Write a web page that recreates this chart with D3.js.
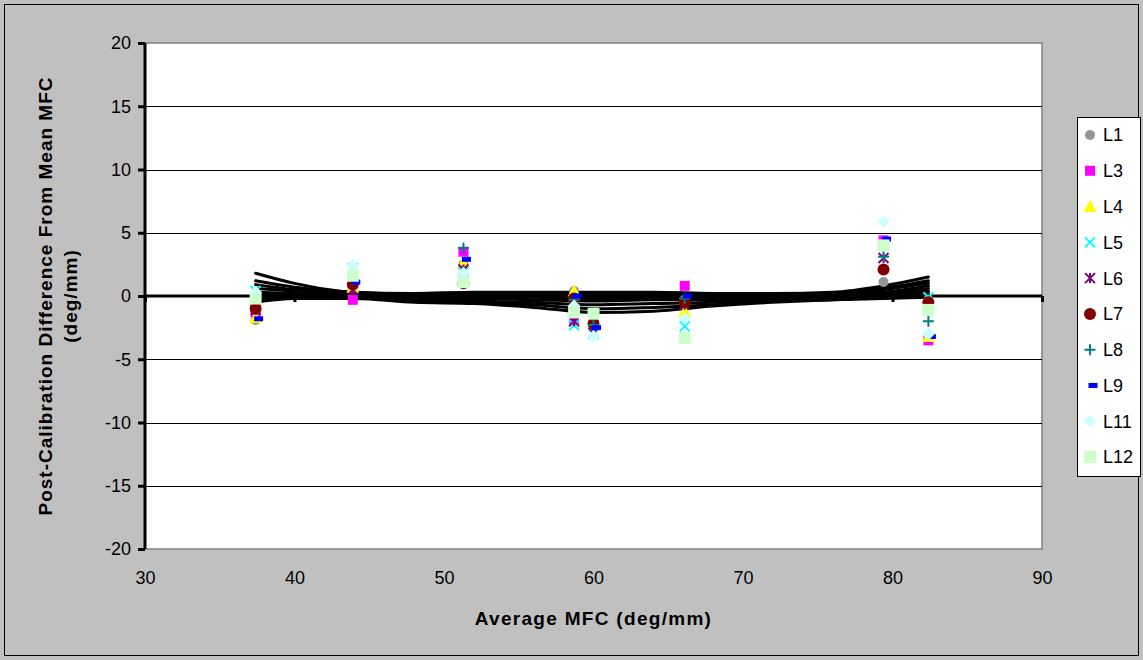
<!DOCTYPE html>
<html><head><meta charset="utf-8">
<script src="https://cdn.jsdelivr.net/npm/d3@7"></script>
<style>body{margin:0;background:#c0c0c0;} svg{display:block;font-family:"Liberation Sans",Arial,sans-serif;}</style>
</head><body>
<svg id="c" width="1143" height="660"></svg>
<script>
// ---- data ----
const mfc = [37.4, 43.9, 51.3, 58.7, 60.0, 66.1, 79.4, 82.4];
const seriesNames = ["L1","L3","L4","L5","L6","L7","L8","L9","L11","L12"];
const L1  = [-1.9, 0.7, 2.5, 0.4, -2.0, -0.3, 1.1, -0.3];
const L3  = [-1.3, -0.3, 3.5, -1.8, -1.8, 0.8, 4.4, -3.5];
const L4  = [-1.7, 0.7, 2.6, 0.4, -2.0, -1.2, 4.2, -3.2];
const L5  = [0.4, 2.2, 1.9, -2.3, -3.0, -2.4, 4.0, -0.1];
const L6  = [-1.1, 0.5, 2.1, -2.0, -2.9, -0.7, 3.0, -0.8];
const L7  = [-1.0, 0.9, 1.0, -0.2, -2.2, -0.5, 2.1, -0.5];
const L8  = [-0.1, 1.3, 3.8, -0.3, -2.3, -0.2, 3.1, -2.0];
const L9  = [-1.8, 1.1, 2.9, 0.0, -2.5, 0.0, 4.5, -3.2];
const L11 = [0.3, 2.4, 1.8, -0.8, -3.2, -1.8, 5.9, -3.0];
const L12 = [-0.2, 1.6, 1.1, -1.3, -1.4, -3.3, 4.0, -1.1];
const seriesValues = [L1, L3, L4, L5, L6, L7, L8, L9, L11, L12];

// smooth black curves (one per series)
const curveX = [37.4, 40, 44, 48, 52, 56, 60, 64, 68, 72, 76, 79.4, 82.4];
const curves = [
  [1.8, 1.0, 0.3, 0.2, 0.3, 0.3, 0.3, 0.3, 0.2, 0.2, 0.3, 0.8, 1.5],
  [1.2, 0.7, 0.3, 0.1, 0.2, 0.2, 0.2, 0.2, 0.1, 0.1, 0.2, 0.6, 1.2],
  [0.9, 0.5, 0.2, 0.0, 0.1, 0.1, 0.1, 0.1, 0.0, 0.1, 0.1, 0.5, 1.0],
  [0.6, 0.4, 0.2, -0.1, 0.0, 0.0, 0.0, 0.0, -0.1, 0.0, 0.0, 0.3, 0.8],
  [0.3, 0.2, 0.1, -0.1, -0.1, -0.1, -0.2, -0.1, -0.2, -0.1, 0.0, 0.2, 0.6],
  [0.1, 0.1, 0.0, -0.2, -0.2, -0.3, -0.4, -0.3, -0.3, -0.2, -0.1, 0.1, 0.4],
  [-0.1, 0.0, 0.0, -0.3, -0.4, -0.5, -0.7, -0.6, -0.5, -0.3, -0.2, 0.0, 0.3],
  [-0.3, -0.1, -0.1, -0.4, -0.5, -0.7, -1.0, -0.9, -0.7, -0.4, -0.3, -0.1, 0.1],
  [-0.5, -0.2, -0.2, -0.5, -0.6, -0.9, -1.3, -1.2, -0.8, -0.5, -0.3, -0.2, -0.1]
];
const xTicks = [30, 40, 50, 60, 70, 80, 90];
const yTicks = [-20, -15, -10, -5, 0, 5, 10, 15, 20];
const xTitle = "Average MFC (deg/mm)";
const yTitle = ["Post-Calibration Difference From Mean MFC", "(deg/mm)"];

// ---- styles ----
const styles = {
  L1:{shape:"circle", fill:"#969696", size:5},
  L3:{shape:"square", fill:"#ff00ff", size:10},
  L4:{shape:"triangle", fill:"#ffff00", size:11},
  L5:{shape:"x", stroke:"#00ffff", size:10},
  L6:{shape:"star", stroke:"#800080", size:10},
  L7:{shape:"circle", fill:"#800000", size:6},
  L8:{shape:"plus", stroke:"#008080", size:11},
  L9:{shape:"dash", fill:"#0000ff", size:9},
  L11:{shape:"diamond", fill:"#ccffff", size:13},
  L12:{shape:"square", fill:"#ccffcc", size:12}
};

const svg = d3.select("#c");
const W = 1143, H = 660;
svg.append("rect").attr("x",0).attr("y",0).attr("width",W).attr("height",H).attr("fill","#c0c0c0");
svg.append("rect").attr("x",4.5).attr("y",4.5).attr("width",W-9).attr("height",H-9).attr("fill","none").attr("stroke","#000").attr("stroke-width",1);

const x = d3.scaleLinear().domain([30, 90]).range([145, 1042]);
const y = d3.scaleLinear().domain([-20, 20]).range([549, 43]);

// plot area
svg.append("rect").attr("x",x(30)).attr("y",y(20)).attr("width",x(90)-x(30)).attr("height",y(-20)-y(20))
  .attr("fill","#fff").attr("stroke","#808080").attr("stroke-width",1.5);

// gridlines
svg.append("g").selectAll("line").data(yTicks.filter(d=>d!==0 && d!==20 && d!==-20)).join("line")
  .attr("x1",x(30)).attr("x2",x(90)).attr("y1",d=>Math.round(y(d))+0.5).attr("y2",d=>Math.round(y(d))+0.5)
  .attr("stroke","#000").attr("stroke-width",1);

// y axis
const yAxis = svg.append("g").attr("transform",`translate(${x(30)},0)`)
  .call(d3.axisLeft(y).tickValues(yTicks).tickSize(7).tickPadding(7).tickFormat(d=>d));
yAxis.select(".domain").attr("stroke","#000").attr("stroke-width",3).attr("d",`M0,${y(20)}V${y(-20)}`);
yAxis.selectAll(".tick line").attr("stroke","#000").attr("stroke-width",3);
yAxis.selectAll("text").attr("font-size",18).attr("fill","#000").attr("font-family","Liberation Sans, Arial, sans-serif");

// x axis labels at bottom
const xLab = svg.append("g").attr("transform",`translate(0,${y(-20)})`)
  .call(d3.axisBottom(x).tickValues(xTicks).tickSize(0).tickPadding(22));
xLab.select(".domain").remove();
xLab.selectAll("text").attr("font-size",18).attr("fill","#000").attr("font-family","Liberation Sans, Arial, sans-serif");

// black curves
const line = d3.line().x((d,i)=>x(curveX[i])).y(d=>y(d)).curve(d3.curveMonotoneX);
svg.append("g").selectAll("path").data(curves).join("path")
  .attr("d",line).attr("fill","none").attr("stroke","#000").attr("stroke-width",3).attr("stroke-linecap","round");

// x axis line at zero with ticks
const xAxis = svg.append("g").attr("transform",`translate(0,${y(0)})`)
  .call(d3.axisBottom(x).tickValues(xTicks).tickSize(6).tickFormat(""));
xAxis.select(".domain").attr("stroke","#000").attr("stroke-width",3).attr("d",`M${x(30)},0H${x(90)}`);
xAxis.selectAll(".tick line").attr("stroke","#000").attr("stroke-width",3);

// markers
function drawMarker(g, st, cx, cy){
  const s = st.size;
  switch(st.shape){
    case "circle": g.append("circle").attr("cx",cx).attr("cy",cy).attr("r",s).attr("fill",st.fill); break;
    case "square": g.append("rect").attr("x",cx-s/2).attr("y",cy-s/2).attr("width",s).attr("height",s).attr("fill",st.fill); break;
    case "triangle": g.append("path").attr("d",`M${cx},${cy-s/2-1}L${cx+s/2+1},${cy+s/2}L${cx-s/2-1},${cy+s/2}Z`).attr("fill",st.fill); break;
    case "diamond": g.append("path").attr("d",`M${cx},${cy-s/2}L${cx+s/2},${cy}L${cx},${cy+s/2}L${cx-s/2},${cy}Z`).attr("fill",st.fill); break;
    case "dash": g.append("rect").attr("x",cx-s/2+3).attr("y",cy-2.5).attr("width",s).attr("height",5).attr("fill",st.fill); break;
    case "x": g.append("path").attr("d",`M${cx-s/2},${cy-s/2}L${cx+s/2},${cy+s/2}M${cx+s/2},${cy-s/2}L${cx-s/2},${cy+s/2}`).attr("stroke",st.stroke).attr("stroke-width",2).attr("fill","none"); break;
    case "star": g.append("path").attr("d",`M${cx-s/2},${cy-s/2}L${cx+s/2},${cy+s/2}M${cx+s/2},${cy-s/2}L${cx-s/2},${cy+s/2}M${cx},${cy-s/2}L${cx},${cy+s/2}`).attr("stroke",st.stroke).attr("stroke-width",2).attr("fill","none"); break;
    case "plus": g.append("path").attr("d",`M${cx-s/2},${cy}L${cx+s/2},${cy}M${cx},${cy-s/2}L${cx},${cy+s/2}`).attr("stroke",st.stroke).attr("stroke-width",2).attr("fill","none"); break;
  }
}
const mg = svg.append("g");
seriesNames.forEach((name, si)=>{
  const g = mg.append("g");
  seriesValues[si].forEach((v,i)=> drawMarker(g, styles[name], x(mfc[i]), y(v)));
});

// legend
const lg = svg.append("g");
lg.append("rect").attr("x",1077.5).attr("y",117.5).attr("width",63).attr("height",359).attr("fill","#fff").attr("stroke","#000").attr("stroke-width",1);
const legY = d3.scaleLinear().domain([0, seriesNames.length-1]).range([135, 457]);
seriesNames.forEach((name, i)=>{
  const g = lg.append("g");
  drawMarker(g, styles[name], 1090, legY(i));
  g.append("text").attr("x",1103).attr("y",legY(i)).attr("dy","0.36em").attr("font-size",18).text(name);
});

// titles
svg.append("text").attr("x",(x(30)+x(90))/2).attr("y",625).attr("text-anchor","middle")
  .attr("font-size",19).attr("font-weight","bold").attr("letter-spacing",1.3).text(xTitle);
const yt = svg.append("text").attr("transform",`translate(0,${(y(20)+y(-20))/2}) rotate(-90)`)
  .attr("text-anchor","middle").attr("font-size",19).attr("font-weight","bold").attr("letter-spacing",1);
yt.append("tspan").attr("x",0).attr("y",52).text(yTitle[0]);
yt.append("tspan").attr("x",0).attr("y",77).text(yTitle[1]);
</script>
</body></html>
